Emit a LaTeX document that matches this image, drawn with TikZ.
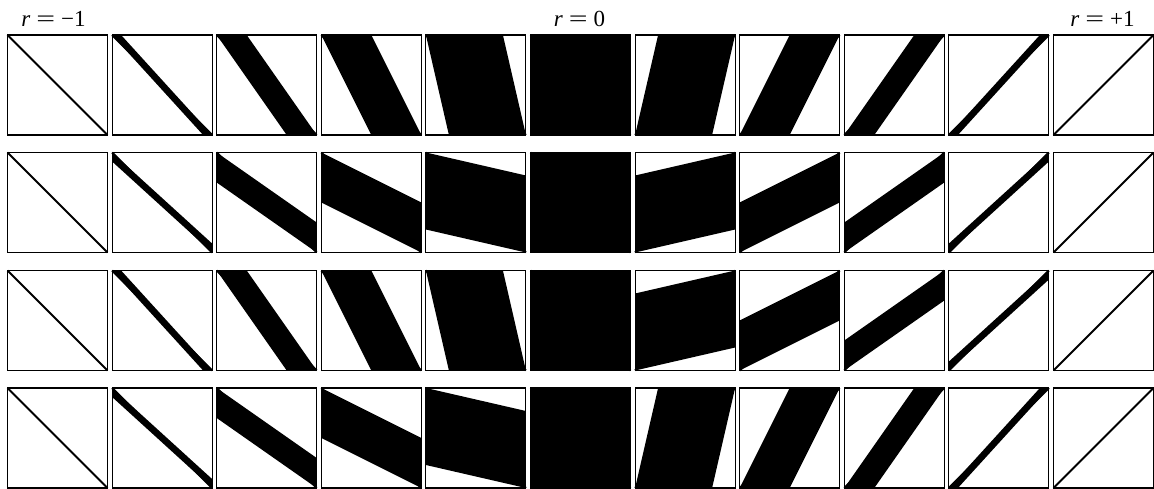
\documentclass[tikz,border=0pt]{standalone}
\usepackage{fontspec}
\setmainfont{Liberation Serif}
\usepackage{graphicx}
\newcommand{\rlab}[1]{\fontsize{23}{27}\selectfont\textit{r}\hspace{6pt}\scalebox{1.45}[1]{=}\hspace{6pt}#1}
\begin{document}
\begin{tikzpicture}[x=1pt,y=-1pt,
  sq/.style={draw=black,line width=1.1pt},
  band/.style={fill=black},
  diag/.style={draw=black,line width=2pt},
  lab/.style={anchor=base,inner sep=0pt}]
\useasboundingbox (0,0) rectangle (1154,489);
\def\S{100}
\foreach \T/\ta/\tb in {35/0/0, 152.5/1/1, 270.5/0/1, 388/1/0} {
  \foreach \c/\w in {0/0, 1/0.09, 2/0.3, 3/0.5, 4/0.77, 5/1, 6/0.77, 7/0.5, 8/0.3, 9/0.09, 10/0} {
    \pgfmathsetmacro\L{7.5+104.6*\c}
    \pgfmathtruncatemacro\pos{\c>5 ? 1 : 0}
    \pgfmathtruncatemacro\typ{\pos==1 ? \tb : \ta}
    \pgfmathsetmacro\xs{\pos==1 ? -1 : 1}
    \pgfmathsetmacro\xo{\pos==1 ? \L+\S : \L}
    \begin{scope}[shift={(\xo,\T)}, xscale=\xs]
      \ifnum\typ=0
        \fill[band] (0,0) -- ({\w*\S},0) -- (\S,\S) -- ({(1-\w)*\S},\S) -- cycle;
      \else
        \fill[band] (0,0) -- (\S,{(1-\w)*\S}) -- (\S,\S) -- (0,{\w*\S}) -- cycle;
      \fi
      \draw[diag] (0,0) -- (\S,\S);
      \draw[sq] (0,0) rectangle (\S,\S);
    \end{scope}
  }
}
\node[lab] (lneg) at (53.5,27) {\rlab{−1}};
\node[lab] (lzero) at (579.5,27) {\rlab{0}};
\node[lab] (lpos) at (1102.5,27) {\rlab{+1}};
\end{tikzpicture}
\end{document}
